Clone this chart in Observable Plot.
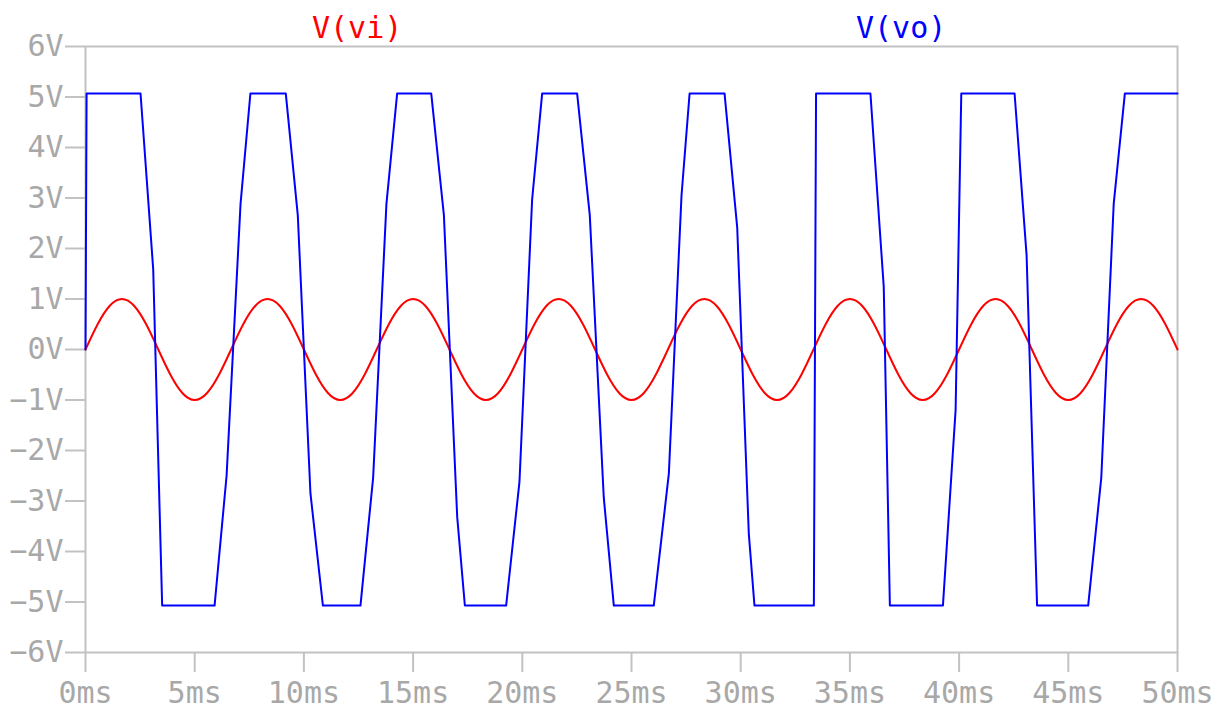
<!DOCTYPE html>
<html>
<head>
<meta charset="utf-8">
<script src="https://cdn.jsdelivr.net/npm/d3@7"></script>
<script src="https://cdn.jsdelivr.net/npm/@observablehq/plot@0.6"></script>
<style>
  html, body { margin: 0; padding: 0; background: #fff; }
  #wrap { position: relative; width: 1220px; height: 711px; overflow: hidden; }
  #legend { position: relative; height: 30px; width: 1220px; font-family: "DejaVu Sans Mono", monospace; font-size: 30px; overflow: visible; }
  #legend span { position: absolute; top: 11px; line-height: 34px; white-space: pre; }
  svg { overflow: visible; }
</style>
</head>
<body>
<div id="wrap">
  <div id="legend"></div>
  <div id="chart"></div>
</div>
<script>
// ---- Data ----
const seriesNames = ["V(vi)", "V(vo)"];
const seriesColors = ["#ff0000", "#0000ff"];

// V(vi): input sine (ms, V)
const viTime = [0,0.556,1.111,1.667,2.222,2.778,3.333,3.889,4.444,
  5,5.556,6.111,6.667,7.222,7.778,8.333,8.889,9.444,
  10,10.556,11.111,11.667,12.222,12.778,13.333,13.889,14.444,
  15,15.556,16.111,16.667,17.222,17.778,18.333,18.889,19.444,
  20,20.556,21.111,21.667,22.222,22.778,23.333,23.889,24.444,
  25,25.556,26.111,26.667,27.222,27.778,28.333,28.889,29.444,
  30,30.556,31.111,31.667,32.222,32.778,33.333,33.889,34.444,
  35,35.556,36.111,36.667,37.222,37.778,38.333,38.889,39.444,
  40,40.556,41.111,41.667,42.222,42.778,43.333,43.889,44.444,
  45,45.556,46.111,46.667,47.222,47.778,48.333,48.889,49.444,
  50];
const viVolts = [0,0.5,0.866,1,0.866,0.5,0,-0.5,-0.866,-1,-0.866,-0.5,
  0,0.5,0.866,1,0.866,0.5,0,-0.5,-0.866,-1,-0.866,-0.5,
  0,0.5,0.866,1,0.866,0.5,0,-0.5,-0.866,-1,-0.866,-0.5,
  0,0.5,0.866,1,0.866,0.5,0,-0.5,-0.866,-1,-0.866,-0.5,
  0,0.5,0.866,1,0.866,0.5,0,-0.5,-0.866,-1,-0.866,-0.5,
  0,0.5,0.866,1,0.866,0.5,0,-0.5,-0.866,-1,-0.866,-0.5,
  0,0.5,0.866,1,0.866,0.5,0,-0.5,-0.866,-1,-0.866,-0.5,
  0,0.5,0.866,1,0.866,0.5,
  0];

// V(vo): comparator output (ms, V)
const voTime = [0,0.05,2.52,3.10,3.51,5.91,6.46,7.10,7.55,9.17,9.72,10.30,10.87,
  12.59,13.17,13.78,14.27,15.83,16.41,17.02,17.37,19.26,19.87,20.45,20.91,
  22.51,23.09,23.73,24.19,26.02,26.71,27.29,27.66,29.26,29.84,30.37,30.63,
  33.35,33.45,35.94,36.55,36.83,39.26,39.84,40.10,42.54,43.09,43.57,
  45.91,46.51,47.08,47.59,50];
const voVolts = [0,5.07,5.07,1.59,-5.07,-5.07,-2.5,2.89,5.07,5.07,2.66,-2.85,-5.07,
  -5.07,-2.54,2.89,5.07,5.07,2.66,-3.32,-5.07,-5.07,-2.62,2.97,5.07,
  5.07,2.66,-2.93,-5.07,-5.07,-2.46,3.05,5.07,5.07,2.42,-3.64,-5.07,
  -5.07,5.07,5.07,1.24,-5.07,-5.07,-1.20,5.07,5.07,1.87,-5.07,
  -5.07,-2.54,2.89,5.07,5.07];

const xTicks = [0,5,10,15,20,25,30,35,40,45,50];
const yTicks = [-6,-5,-4,-3,-2,-1,0,1,2,3,4,5,6];

// ---- Build tables ----
const vi = viTime.map((t, i) => ({t, v: viVolts[i]}));
const vo = voTime.map((t, i) => ({t, v: voVolts[i]}));

// ---- Legend (above the SVG) ----
const legend = document.getElementById("legend");
const legendLeft = [312, 856];
seriesNames.forEach((name, i) => {
  const s = document.createElement("span");
  s.textContent = name;
  s.style.color = seriesColors[i];
  s.style.left = legendLeft[i] + "px";
  legend.appendChild(s);
});

const tickColor = "#c2c2c2";
const textColor = "#a8a8a8";

const chart = Plot.plot({
  width: 1220,
  height: 681,
  marginTop: 16,
  marginBottom: 59,
  marginLeft: 85,
  marginRight: 43,
  style: {fontFamily: "'DejaVu Sans Mono', monospace", fontSize: "30px", background: "#fff", color: textColor, overflow: "visible"},
  x: {domain: [0, 50]},
  y: {domain: [-6, 6]},
  marks: [
    Plot.axisX({ticks: xTicks, tickFormat: d => `${d}ms`, tickSize: 20, tickPadding: 9, stroke: tickColor, strokeWidth: 2, fill: textColor, label: null, fontSize: 30}),
    Plot.axisY({ticks: yTicks, tickFormat: d => `${d < 0 ? "\u2212" + (-d) : d}V`, tickSize: 20, tickPadding: 2, stroke: tickColor, strokeWidth: 2, fill: textColor, label: null, fontSize: 30}),
    Plot.frame({stroke: tickColor, strokeWidth: 2}),
    Plot.line(vi, {x: "t", y: "v", stroke: seriesColors[0], strokeWidth: 2, curve: "natural"}),
    Plot.line(vo, {x: "t", y: "v", stroke: seriesColors[1], strokeWidth: 2})
  ]
});
document.getElementById("chart").appendChild(chart);
</script>
</body>
</html>
